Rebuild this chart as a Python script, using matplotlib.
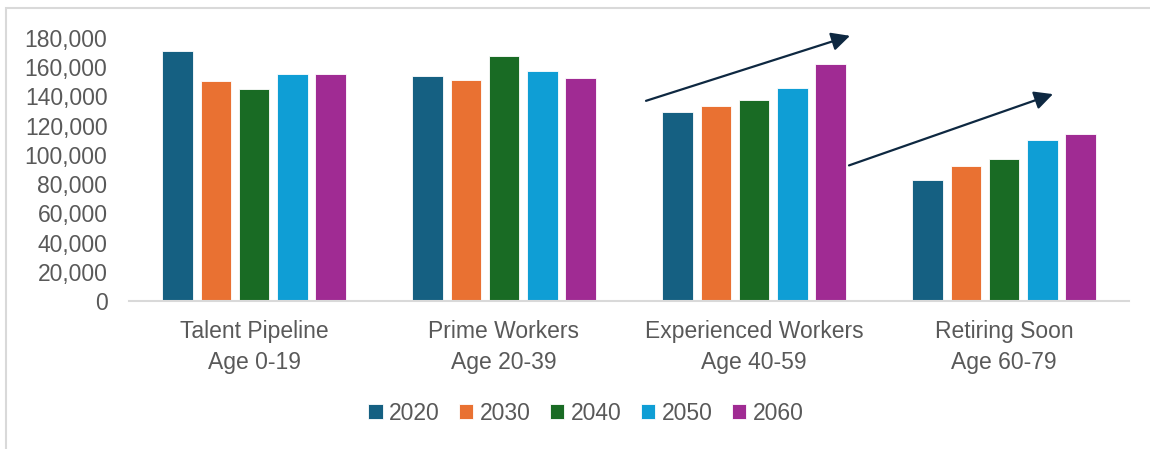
import matplotlib
matplotlib.use("Agg")
import matplotlib.pyplot as plt
import numpy as np
from matplotlib.patches import Rectangle

categories = ["Talent Pipeline\nAge 0-19", "Prime Workers\nAge 20-39",
              "Experienced Workers\nAge 40-59", "Retiring Soon\nAge 60-79"]
years = ["2020", "2030", "2040", "2050", "2060"]
v2020 = [171000, 153700, 129500, 82800]
v2030 = [150700, 151200, 133600, 92300]
v2040 = [145200, 168000, 137500, 97100]
v2050 = [155700, 157300, 145900, 110100]
v2060 = [155300, 152300, 162100, 114200]
series = [v2020, v2030, v2040, v2050, v2060]
colors = ["#156082", "#E97132", "#196B24", "#0F9ED5", "#A02B93"]
yticks = [0, 20000, 40000, 60000, 80000, 100000, 120000, 140000, 160000, 180000]

W, H = 1150, 449
fig = plt.figure(figsize=(W / 100, H / 100), dpi=100)
plt.rcParams['font.family'] = ['Liberation Sans', 'DejaVu Sans']
txt = "#595959"
fs = 16.5

ax = fig.add_axes([129 / W, 1 - 301 / H, 1000 / W, 263 / H])
x = np.arange(len(categories))
step = 0.153
bw = 0.122
for i, (vals, c, yr) in enumerate(zip(series, colors, years)):
    ax.bar(x + (i - 2) * step, vals, width=bw, color=c, label=yr,
           edgecolor="white", linewidth=0.6, zorder=2)

ax.set_xlim(-0.5, 3.5)
ax.set_ylim(0, 180000)
ax.set_yticks(yticks)
ax.set_yticklabels([f"{v:,}" for v in yticks], fontsize=fs, color=txt)
ax.set_xticks(x)
ax.set_xticklabels(categories, fontsize=fs, color=txt, linespacing=1.4)
ax.tick_params(axis="both", length=0)
ax.tick_params(axis="y", pad=15.5)
ax.tick_params(axis="x", pad=14)
for s in ["top", "right", "left"]:
    ax.spines[s].set_visible(False)
ax.spines["bottom"].set_color("#D9D9D9")
ax.spines["bottom"].set_linewidth(1.5)

arrow_kw = dict(arrowstyle="-|>", color="#0E2841", lw=1.6, mutation_scale=28,
                shrinkA=0, shrinkB=0)
ax.annotate("", xy=(2.384, 181500), xytext=(1.568, 137000),
            arrowprops=arrow_kw, annotation_clip=False)
ax.annotate("", xy=(3.196, 141600), xytext=(2.38, 92800),
            arrowprops=arrow_kw, annotation_clip=False)

leg = fig.legend(loc="center", bbox_to_anchor=(586 / W, 1 - 413 / H), ncol=5,
                 frameon=False, fontsize=fs, handlelength=0.62, handleheight=0.62,
                 handletextpad=0.28, columnspacing=0.85)
for t in leg.get_texts():
    t.set_color(txt)

fig.patches.append(Rectangle((6 / W, -0.1), 1.2, 1 - 8 / H + 0.1,
                             transform=fig.transFigure, fill=False,
                             edgecolor="#D9D9D9", linewidth=1.5))

fig.savefig("out.png", dpi=100, facecolor="white")
